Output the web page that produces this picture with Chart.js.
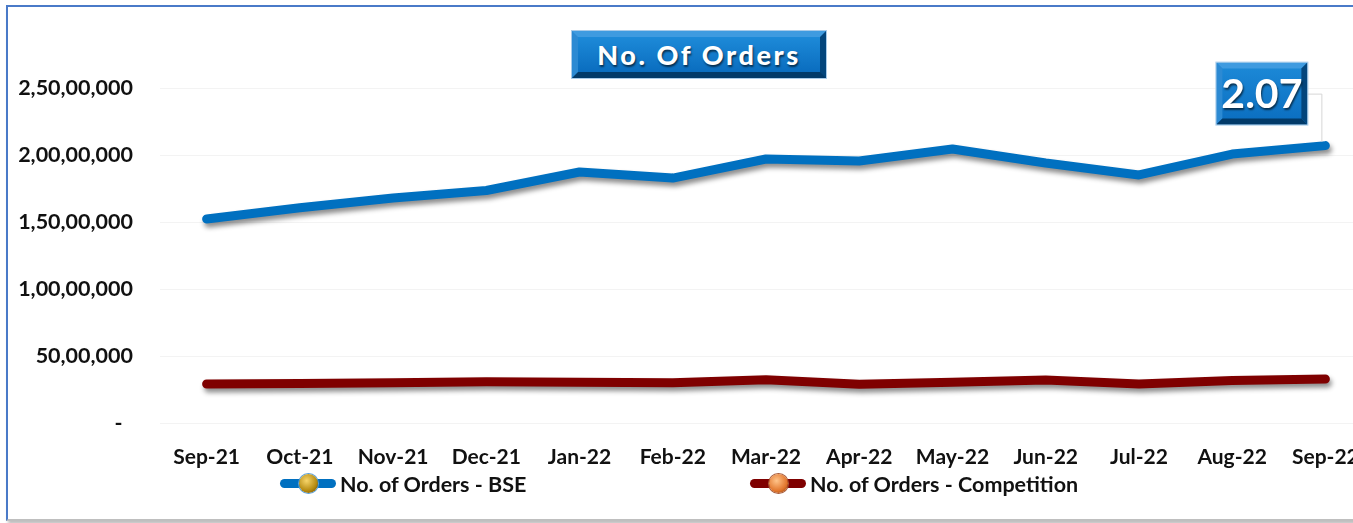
<!DOCTYPE html>
<html>
<head>
<meta charset="utf-8">
<script src="https://cdn.jsdelivr.net/npm/chart.js@4"></script>
<style>
  html, body { margin: 0; padding: 0; background: #fff; overflow: hidden; }
  body { width: 1353px; height: 523px; position: relative; font-family: Lato, 'Open Sans', sans-serif; }
  #frame { position: absolute; left: 6px; top: 5px; width: 1400px; height: 512px;
           border-left: 2px solid #4a7ac8; border-top: 2px solid #4a7ac8; border-bottom: 2px solid #bfbfbf;
           box-shadow: 2px 3px 3px rgba(0,0,0,0.25); }
  #wrap { position: absolute; left: 0; top: 0; width: 1400px; height: 523px; }
  .title { position: absolute; left: 572px; top: 31px; width: 242px; height: 35px;
           border-style: solid; border-width: 6px;
           border-color: #3f9be0 #03457c #023a69 #2c8ad3;
           background: linear-gradient(#1d8ad8, #0a6dbf);
           outline: 1px solid #a9cbe9;
           color: #fff; font-weight: 900; font-size: 27px; letter-spacing: 2.6px;
           text-align: center; line-height: 35px; text-shadow: 1px 2px 2px rgba(0,0,0,0.6); }
  .legend { position: absolute; top: 470px; left: 0; width: 1400px; height: 28px; }
  .item { position: absolute; top: 0; height: 28px; display: flex; align-items: center;
          font-weight: bold; font-size: 21.5px; color: #111; white-space: nowrap; }
  .sym { position: relative; width: 56px; height: 28px; margin-right: 4px; }
  .sym .ln { position: absolute; left: 0; right: 0; top: 9px; height: 9px; border-radius: 5px; }
  .sym .dot { position: absolute; left: 19px; top: 4px; width: 19px; height: 19px; border-radius: 50%; }
</style>
</head>
<body>
<div id="frame"></div>
<div id="wrap"><canvas id="grafica" width="1400" height="523"></canvas></div>
<div class="title">No. Of Orders</div>
<div class="legend" id="legend"></div>
<script>
// Datos del grafico
const MONTHS = ['Sep-21', 'Oct-21', 'Nov-21', 'Dec-21', 'Jan-22', 'Feb-22', 'Mar-22',
                'Apr-22', 'May-22', 'Jun-22', 'Jul-22', 'Aug-22', 'Sep-22']
const BSE_ORDERS  = [15220000, 16070000, 16790000, 17350000, 18730000, 18280000, 19700000,
                     19550000, 20450000, 19400000, 18510000, 20070000, 20700000]
const COMP_ORDERS = [2910000, 2950000, 3000000, 3080000, 3050000, 3000000, 3230000,
                     2900000, 3050000, 3200000, 2910000, 3180000, 3280000]
const SERIES = ['No. of Orders - BSE', 'No. of Orders - Competition']
const Y_MIN = 0
const Y_MAX = 25000000
const Y_STEP = 5000000

const COLORS = {
  blue: '#0070c0',
  maroon: '#7f0000',
}
const FONT = "Lato, 'Open Sans', sans-serif"

// sombra de las lineas
const lineShadow = {
  id: 'lineShadow',
  beforeDatasetsDraw(chart) {
    const ctx = chart.ctx
    ctx.save()
    ctx.shadowColor = 'rgba(0,0,0,0.45)'
    ctx.shadowBlur = 5
    ctx.shadowOffsetX = 2
    ctx.shadowOffsetY = 4
  },
  afterDatasetsDraw(chart) {
    chart.ctx.restore()
  }
}

// etiqueta del ultimo valor (caja biselada)
const lastLabel = {
  id: 'lastLabel',
  afterDatasetsDraw(chart) {
    const ctx = chart.ctx
    const meta = chart.getDatasetMeta(0)
    const pt = meta.data[meta.data.length - 1]
    const val = chart.data.datasets[0].data[meta.data.length - 1]
    const W = 91, H = 62, b = 6
    const L = pt.x - 109, T = pt.y - 83, R = L + W, B = T + H
    ctx.save()
    // linea guia
    ctx.strokeStyle = '#d6d6d6'
    ctx.lineWidth = 1
    ctx.beginPath()
    ctx.moveTo(R, T + H / 2 + 0.5)
    ctx.lineTo(pt.x - 3.5, T + H / 2 + 0.5)
    ctx.lineTo(pt.x - 3.5, pt.y - 4)
    ctx.stroke()
    // caja
    const g = ctx.createLinearGradient(0, T, 0, B)
    g.addColorStop(0, '#1d8ad8')
    g.addColorStop(1, '#0a6dbf')
    ctx.fillStyle = g
    ctx.fillRect(L, T, W, H)
    const poly = (pts, c) => {
      ctx.fillStyle = c
      ctx.beginPath()
      ctx.moveTo(pts[0][0], pts[0][1])
      pts.slice(1).forEach(p => ctx.lineTo(p[0], p[1]))
      ctx.closePath()
      ctx.fill()
    }
    poly([[L, T], [R, T], [R - b, T + b], [L + b, T + b]], '#3f9be0')
    poly([[L, T], [L + b, T + b], [L + b, B - b], [L, B]], '#2c8ad3')
    poly([[L, B], [L + b, B - b], [R - b, B - b], [R, B]], '#023a69')
    poly([[R, T], [R, B], [R - b, B - b], [R - b, T + b]], '#03457c')
    ctx.strokeStyle = '#a9cbe9'
    ctx.strokeRect(L - 0.5, T - 0.5, W + 1, H + 1)
    ctx.fillStyle = '#fff'
    ctx.font = 'bold 41px ' + FONT
    ctx.textAlign = 'center'
    ctx.textBaseline = 'middle'
    ctx.shadowColor = 'rgba(0,0,0,0.6)'
    ctx.shadowBlur = 2
    ctx.shadowOffsetX = 1
    ctx.shadowOffsetY = 2
    ctx.fillText((val / 1e7).toFixed(2), L + W / 2, T + H / 2 + 1)
    ctx.restore()
  }
}

new Chart(document.getElementById('grafica'), {
  type: 'line',
  data: {
    labels: MONTHS,
    datasets: [{
      label: SERIES[0],
      data: BSE_ORDERS,
      borderColor: COLORS.blue,
      backgroundColor: COLORS.blue,
      borderWidth: 9,
      borderCapStyle: 'round',
      borderJoinStyle: 'round',
      pointRadius: 0,
      pointHoverRadius: 0,
      tension: 0,
    }, {
      label: SERIES[1],
      data: COMP_ORDERS,
      borderColor: COLORS.maroon,
      backgroundColor: COLORS.maroon,
      borderWidth: 9,
      borderCapStyle: 'round',
      borderJoinStyle: 'round',
      pointRadius: 0,
      pointHoverRadius: 0,
      tension: 0,
    }]
  },
  options: {
    responsive: false,
    animation: false,
    layout: { padding: { top: 88, left: 10, right: 28, bottom: 50 } },
    plugins: { legend: { display: false }, tooltip: { enabled: false } },
    scales: {
      x: {
        offset: true,
        grid: { display: false, drawTicks: false },
        border: { display: false },
        ticks: { color: '#111', padding: 22, maxRotation: 0, autoSkip: false,
                 font: { family: FONT, size: 21, weight: 'bold' } },
        afterFit: function(s) { s.height = 50 }
      },
      y: {
        min: Y_MIN,
        max: Y_MAX,
        grid: { color: '#f3f3f3', drawTicks: false },
        border: { display: false },
        ticks: {
          stepSize: Y_STEP,
          color: '#111',
          padding: 27,
          font: { family: FONT, size: 21.5, weight: 'bold' },
          callback: function(v) { return v === 0 ? '-  ' : v.toLocaleString('en-IN') }
        },
        afterFit: function(s) { s.width = 150 }
      }
    }
  },
  plugins: [lineShadow, lastLabel]
})

// leyenda
const LEG_POS = [280, 750]
const DOTS = [
  { line: COLORS.blue, dot: 'radial-gradient(circle at 40% 35%, #f7d56a, #b58a10 60%, #5e4300)', ring: '#5aa0dc' },
  { line: COLORS.maroon, dot: 'radial-gradient(circle at 40% 35%, #ffc48a, #e2772e 60%, #8a3a08)', ring: '#a65a3a' },
]
const legend = document.getElementById('legend')
SERIES.forEach(function(name, i) {
  const it = document.createElement('div')
  it.className = 'item'
  it.style.left = LEG_POS[i] + 'px'
  it.innerHTML = '<div class="sym"><div class="ln" style="background:' + DOTS[i].line + '"></div>' +
    '<div class="dot" style="background:' + DOTS[i].dot + ';box-shadow:0 0 0 1px ' + DOTS[i].ring + '"></div></div>' +
    '<span></span>'
  it.querySelector('span').textContent = name
  legend.appendChild(it)
})
</script>
</body>
</html>
